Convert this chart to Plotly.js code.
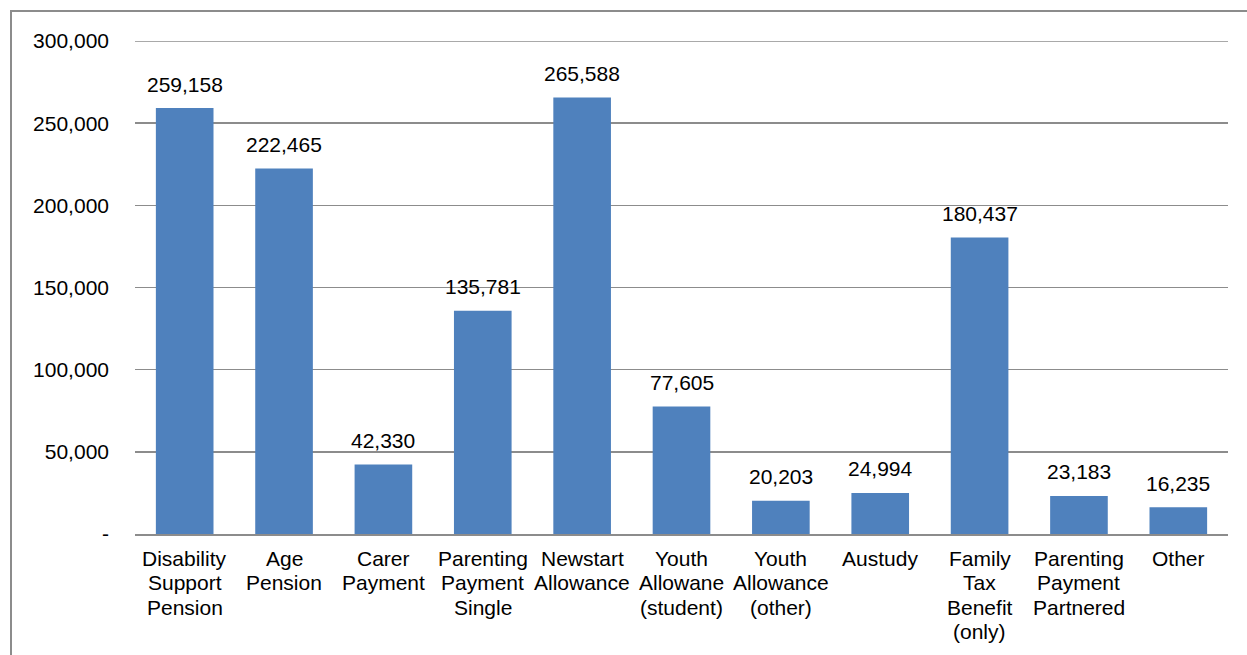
<!DOCTYPE html>
<html><head><meta charset="utf-8">
<script src="https://cdn.plot.ly/plotly-3.0.1.min.js"></script>
<style>
html,body{margin:0;padding:0;overflow:hidden;background:#fff;}
#frame{position:absolute;left:10px;top:10px;width:1400px;height:800px;border:2px solid #8c8c8c;box-sizing:border-box;}
#chart{position:absolute;left:0;top:0;width:1247px;height:655px;}
</style></head><body>
<div id="frame"></div>
<div id="chart"></div>
<script>
const categories = ["Disability Support Pension","Age Pension","Carer Payment","Parenting Payment Single","Newstart Allowance","Youth Allowane (student)","Youth Allowance (other)","Austudy","Family Tax Benefit (only)","Parenting Payment Partnered","Other"];
const categoryLines = [["Disability","Support","Pension"],["Age","Pension"],["Carer","Payment"],["Parenting","Payment","Single"],["Newstart","Allowance"],["Youth","Allowane","(student)"],["Youth","Allowance","(other)"],["Austudy"],["Family","Tax","Benefit","(only)"],["Parenting","Payment","Partnered"],["Other"]];
const values = [259158,222465,42330,135781,265588,77605,20203,24994,180437,23183,16235];
const tickVals = [0,50000,100000,150000,200000,250000,300000];
const tickText = ["-","50,000","100,000","150,000","200,000","250,000","300,000"];

const fmt = v => v.toLocaleString('en-US');
const font = {family:"Liberation Sans, Arial, sans-serif", size:21, color:"#000"};

const trace = {type:"bar", x:categories, y:values, marker:{color:"#4F81BD"}, hoverinfo:"none"};
const annotations = categories.map((c,i)=>({x:c, y:values[i], text:fmt(values[i]), showarrow:false, yanchor:"middle", yshift:24, font:font}));
categories.forEach((c,i)=>{
  categoryLines[i].forEach((ln,j)=>{
    annotations.push({x:c, y:0, text:ln, showarrow:false, yanchor:"middle", yshift:-(24 + j*24.5), font:font});
  });
});

const layout = {
  width:1247, height:655,
  margin:{l:135, r:19, t:41, b:121, pad:0},
  paper_bgcolor:"rgba(0,0,0,0)", plot_bgcolor:"rgba(0,0,0,0)",
  bargap:0.42,
  showlegend:false,
  font:font,
  xaxis:{type:"category", showgrid:false, showline:true, linecolor:"#8c8c8c", linewidth:2, ticks:"", showticklabels:false, fixedrange:true},
  yaxis:{range:[0,300000], tickvals:tickVals, ticktext:tickText, showgrid:true, gridcolor:"#8c8c8c", gridwidth:1.5, zeroline:false, showline:false, ticks:"", tickfont:font, ticklabelstandoff:25, fixedrange:true},
  shapes:[{type:"line", xref:"paper", x0:0, x1:1, yref:"y", y0:tickVals[tickVals.length-1], y1:tickVals[tickVals.length-1], line:{color:"#8c8c8c", width:1.5}, layer:"below"}],
  annotations:annotations
};
Plotly.newPlot("chart",[trace],layout,{displayModeBar:false, staticPlot:true});
</script>
</body></html>
